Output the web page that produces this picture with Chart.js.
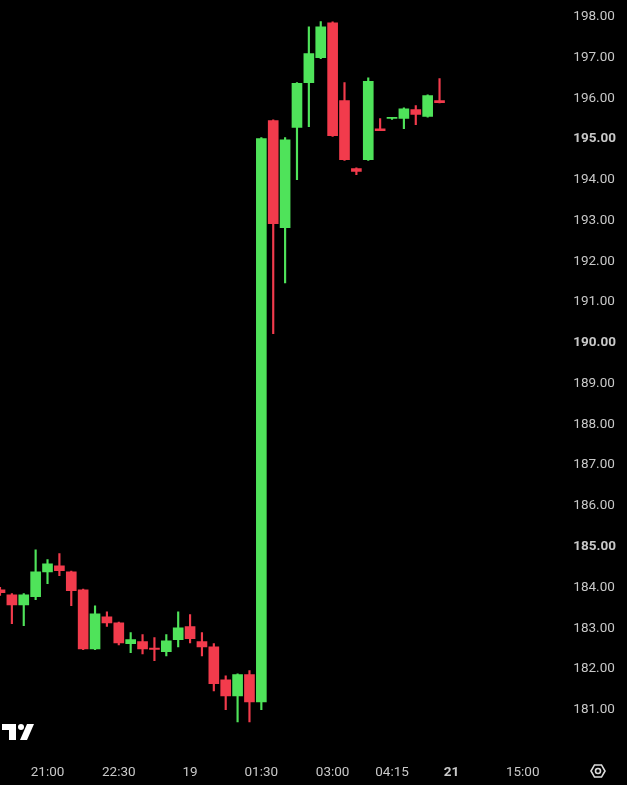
<!DOCTYPE html>
<html><head><meta charset="utf-8">
<script src="https://cdn.jsdelivr.net/npm/chart.js@4/dist/chart.umd.min.js"></script>
<style>html,body{margin:0;background:#000;}#w{width:627px;height:785px;}</style>
</head><body><div id="w"><canvas id="c"></canvas></div>
<script>
const opens  = [183.94,183.82,183.57,183.77,184.38,184.53,184.38,183.94,182.49,183.28,183.13,182.62,182.67,182.48,182.42,182.72,183.04,182.67,182.54,181.73,181.34,181.86,181.19,195.45,192.82,195.28,196.38,196.99,197.85,195.94,194.27,194.49,195.25,195.50,195.50,195.72,195.55,195.94];
const highs  = [184.00,183.85,183.85,184.92,184.68,184.83,184.40,183.96,183.55,183.40,183.15,182.89,182.84,182.77,182.84,183.40,183.33,182.89,182.62,181.83,181.88,181.96,195.03,195.47,195.03,196.38,197.75,197.88,197.87,196.38,194.29,196.50,195.50,195.52,195.76,195.82,196.08,196.48];
const lows   = [183.80,183.11,183.06,183.70,184.09,184.29,183.55,182.47,182.47,183.04,182.59,182.40,182.37,182.20,182.32,182.54,182.64,182.32,181.46,181.00,180.70,180.70,181.00,190.22,191.47,194.00,195.30,196.97,195.06,194.47,194.12,194.47,195.20,195.48,195.25,195.35,195.53,195.88];
const closes = [183.87,183.57,183.82,184.38,184.58,184.41,183.92,182.49,183.35,183.13,182.64,182.72,182.49,182.47,182.69,183.01,182.74,182.54,181.64,181.34,181.86,181.19,195.01,192.92,194.98,196.36,197.09,197.75,195.08,194.49,194.20,196.41,195.20,195.50,195.74,195.60,196.06,195.89];
const xTickPos = [4,10,16,22,28,33,38,44];
const xTickLabels = ['21:00','22:30','19','01:30','03:00','04:15','21','15:00'];
const boldX = ['21'];
const yBold = [185,190,195];

const UP='#4fe35a', DN='#f23b4c';
const col = opens.map((o,i)=>closes[i]>=o?UP:DN);
const bodies = opens.map((o,i)=>{let a=o,b=closes[i]; if(Math.abs(a-b)<0.03){b=a+0.03;} return {x:i,y:[a,b]};});
const wicks = opens.map((o,i)=>({x:i,y:[lows[i],highs[i]]}));

const deco = {id:'deco',afterDraw(ch){const c=ch.ctx;c.save();
 c.fillStyle='#fff';c.fillRect(2,724,14,6);c.fillRect(9,724,7,16);
 c.beginPath();c.arc(21,727,3,0,Math.PI*2);c.fill();
 c.beginPath();c.moveTo(27,724);c.lineTo(34,724);c.lineTo(27,740);c.lineTo(20,740);c.closePath();c.fill();
 c.strokeStyle='#ddd';c.lineWidth=1.6;c.beginPath();
 for(let k=0;k<6;k++){const a=Math.PI/3*k;const px=598+7*Math.cos(a),py=771+7*Math.sin(a);k?c.lineTo(px,py):c.moveTo(px,py);}
 c.closePath();c.stroke();c.beginPath();c.arc(598,771,2.5,0,Math.PI*2);c.stroke();
 c.restore();}};

new Chart(document.getElementById('c'),{
 type:'bar',
 data:{datasets:[
  {data:wicks,backgroundColor:col,barThickness:1.5,grouped:false,order:2},
  {data:bodies,backgroundColor:col,barThickness:10,grouped:false,order:1}
 ]},
 options:{responsive:true,maintainAspectRatio:false,animation:false,
  layout:{padding:{left:0,right:1,top:-20,bottom:-16}},
  plugins:{legend:{display:false},tooltip:{enabled:false}},
  scales:{
   x:{type:'linear',offset:false,min:0,max:46.75,grid:{display:false},border:{display:false},
     afterBuildTicks(ax){ax.ticks=xTickPos.map(v=>({value:v}));},
     ticks:{autoSkip:false,maxRotation:0,color:'#c8c8c8',padding:20,
       font:(ctx)=>({family:'Roboto, Inter, sans-serif',size:13.5,weight:boldX.includes(xTickLabels[ctx.index])?'bold':'normal'}),
       callback:(v,i)=>xTickLabels[i]}},
   y:{position:'right',min:180.335,max:197.963,grid:{display:false},border:{display:false},
     afterBuildTicks(ax){const t=[];for(let v=181;v<=198;v++)t.push({value:v});ax.ticks=t;},
     ticks:{color:'#c8c8c8',padding:10,
       font:(ctx)=>({family:'Roboto, Inter, sans-serif',size:13.5,weight:yBold.includes(ctx.tick&&ctx.tick.value)?'bold':'normal'}),
       callback:v=>v.toFixed(2)}}
  }},
 plugins:[deco]
});
</script></body></html>
